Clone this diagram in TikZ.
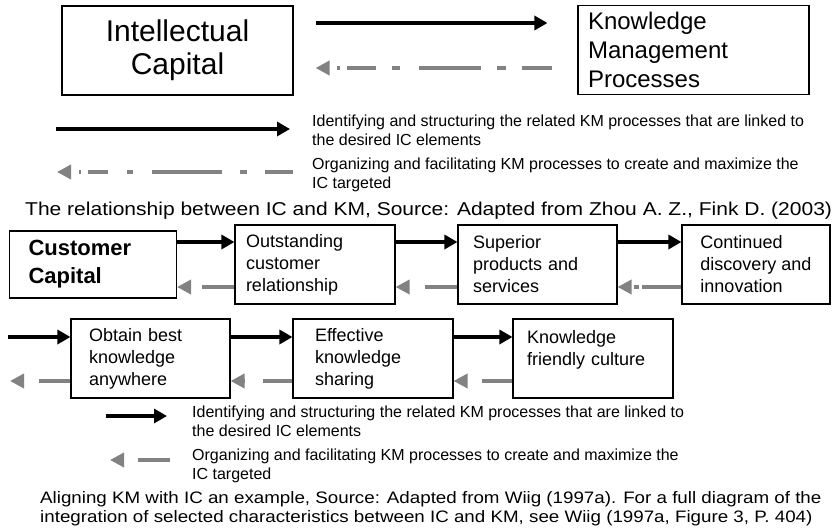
\documentclass[tikz,border=0pt]{standalone}
\usepackage{fontspec}
\setmainfont{Liberation Sans}
\newfontfamily\widefont{Liberation Sans}[FakeStretch=1.13]
\usetikzlibrary{arrows.meta}
\definecolor{backgrey}{RGB}{130,130,130}
\tikzstyle{block}=[draw, line width=1.1pt, minimum height=79pt, inner ysep=0pt, inner xsep=14pt, text width=132pt, align=left, font=\fontsize{18}{22}\selectfont]
\tikzstyle{bigbox}=[draw, line width=1.1pt, minimum height=89pt, inner ysep=0pt]
\tikzstyle{fwd}=[line width=3.6pt, -{Triangle[length=13pt,width=14pt]}]
\tikzstyle{back}=[line width=3.6pt, backgrey, -{Triangle[length=14pt,width=14pt]}]
\tikzstyle{note}=[anchor=north west, inner sep=0pt, align=left, font=\fontsize{16}{18.5}\selectfont]
\tikzstyle{caption}=[anchor=base west, inner sep=0pt, align=left]

\begin{document}
\begin{tikzpicture}[x=1pt, y=-1pt]
\useasboundingbox (0,0) rectangle (832,530);
% IC and KM
\node[bigbox, minimum width=231pt, align=center, font=\fontsize{30}{33}\selectfont] at (177.5,50.5) (ic) {Intellectual\\Capital};
\node[bigbox, minimum width=231pt, inner xsep=10pt, text width=211pt, align=left, font=\fontsize{24}{29}\selectfont] at (693.5,50) (km) {Knowledge\\Management\\Processes};
\draw[fwd, shorten <=22pt, shorten >=30pt] ([yshift=27.5pt]ic.east) -- ([yshift=27.5pt]ic.east -| km.west);
\draw[back, shorten <=25pt, shorten >=22pt, dash pattern=on 30pt off 16pt on 9pt off 16pt on 62pt off 19pt on 8pt off 16pt on 29pt off 7pt on 3pt off 10pt] ([yshift=-17.5pt]ic.east -| km.west) -- ([yshift=-17.5pt]ic.east);
% legend
\coordinate (la) at (56,129);
\coordinate (lb) at (290,129);
\coordinate (lc) at (293,172);
\coordinate (ld) at (57,172);
\draw[fwd] (la) -- (lb);
\draw[back, dash pattern=on 28pt off 18pt on 7pt off 18pt on 70pt off 19pt on 6pt off 19pt on 20pt off 7pt on 2pt off 8pt] (lc) -- (ld);
\node[note] at (312,115) (lt1) {Identifying and structuring the related KM processes that are linked to\\the desired IC elements};
\node[note] at (312,158) (lt2) {Organizing and facilitating KM processes to create and maximize the\\IC targeted};
\node[caption, font=\widefont\fontsize{18.6}{22}\selectfont] at (25,215) (cap1) {The relationship between IC and KM, Source: Adapted from Zhou A. Z., Fink D. (2003)};

% first row
\node[block, text width=129pt, inner xsep=19pt, minimum height=67pt, font=\bfseries\fontsize{22}{28}\selectfont] at (93,264.5) (cc) {Customer\\Capital};
\node[block, inner xsep=11pt, text width=138pt] at (315,264.5) (oc) {Outstanding\\customer\\relationship};
\node[block, inner xsep=15pt, text width=129pt] at (537.5,264.5) (sp) {Superior\\products and\\services};
\node[block, text width=, minimum width=148pt] at (756,264.5) (cd) {Continued\\discovery and\\innovation};
\draw[fwd] ([yshift=22.5pt]cc.east) -- ([yshift=22.5pt]oc.west);
\draw[fwd] ([yshift=22.5pt]oc.east) -- ([yshift=22.5pt]sp.west);
\draw[fwd] ([yshift=22.5pt]sp.east) -- ([yshift=22.5pt]cd.west);
\draw[back, dash pattern=on 32pt off 16pt] ([yshift=-22.5pt]oc.west) -- ([yshift=-22.5pt]cc.east);
\draw[back, dash pattern=on 32pt off 18pt] ([yshift=-22.5pt]sp.west) -- ([yshift=-22.5pt]oc.east);
\draw[back, dash pattern=on 39pt off 3pt on 5pt off 5pt] ([yshift=-22.5pt]cd.west) -- ([yshift=-22.5pt]sp.east);

% second row
\node[block, inner xsep=18pt, text width=123pt] at (150.5,358.5) (ob) {Obtain best\\knowledge\\anywhere};
\node[block, inner xsep=22pt, text width=116pt] at (373,358.5) (ek) {Effective\\knowledge\\sharing};
\node[block, inner xsep=14pt, text width=132pt] at (593,358.5) (kf) {Knowledge\\friendly culture\\~};
\coordinate (in) at (8,337);
\coordinate (out) at (10,381);
\draw[fwd] (in) -- (in -| ob.west);
\draw[fwd] ([yshift=21.5pt]ob.east) -- ([yshift=21.5pt]ek.west);
\draw[fwd] ([yshift=21.5pt]ek.east) -- ([yshift=21.5pt]kf.west);
\draw[back, dash pattern=on 31pt off 15pt] (out -| ob.west) -- (out);
\draw[back, dash pattern=on 29pt off 18pt] ([yshift=-22.5pt]ek.west) -- ([yshift=-22.5pt]ob.east);
\draw[back, dash pattern=on 30pt off 16pt] ([yshift=-22.5pt]kf.west) -- ([yshift=-22.5pt]ek.east);
% legend
\coordinate (ma) at (106,416);
\coordinate (mb) at (167,416);
\coordinate (mc) at (170,460);
\coordinate (md) at (110,460);
\draw[fwd] (ma) -- (mb);
\draw[back, dash pattern=on 32pt off 15pt] (mc) -- (md);
\node[note] at (192,406) (mt1) {Identifying and structuring the related KM processes that are linked to\\the desired IC elements};
\node[note] at (192,449) (mt2) {Organizing and facilitating KM processes to create and maximize the\\IC targeted};
\node[caption, font=\widefont\fontsize{16.6}{19}\selectfont] at (40,522) (cap2) {Aligning KM with IC an example, Source: Adapted from Wiig (1997a). For a full diagram of the\\integration of selected characteristics between IC and KM, see Wiig (1997a, Figure 3, P. 404)};
\end{tikzpicture}
\end{document}
